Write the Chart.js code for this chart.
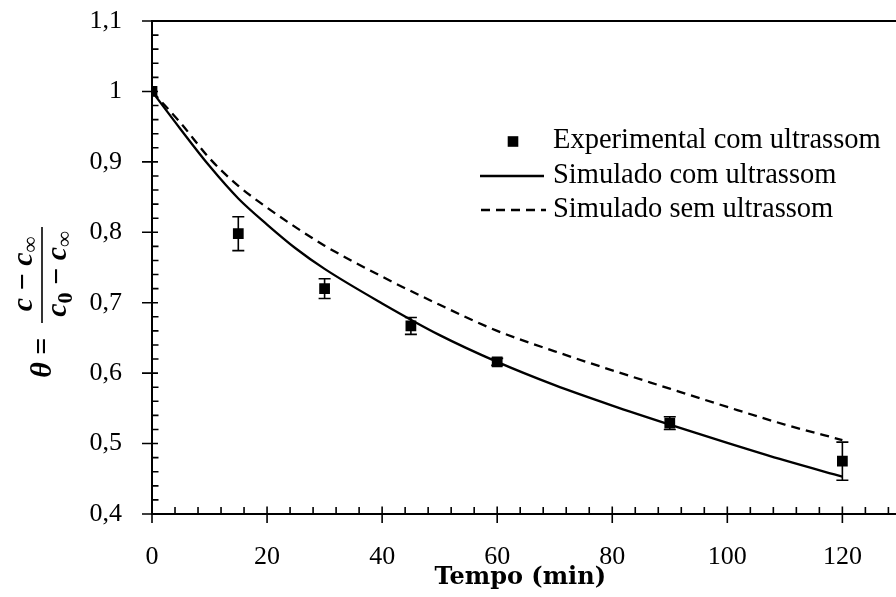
<!DOCTYPE html>
<html>
<head>
<meta charset="utf-8">
<script src="https://cdn.jsdelivr.net/npm/chart.js@4.4.0/dist/chart.umd.min.js"></script>
<style>
    html, body { margin: 0; padding: 0; background: #fff; }
    #wrap { width: 896px; height: 597px; }
</style>
</head>
<body>
<div id="wrap"><canvas id="chart" width="896" height="597"></canvas></div>
<script>
// Concentração adimensional x tempo, com e sem ultrassom

const tempoExp = [0, 15, 30, 45, 60, 90, 120];
const thetaExp = [1.0, 0.798, 0.720, 0.667, 0.616, 0.529, 0.475];
const erroExp  = [0.0, 0.024, 0.014, 0.012, 0.005, 0.009, 0.027];

const tempoSim = [0, 5, 10, 15, 20, 25, 30, 40, 50, 60, 70, 80, 90, 100, 110, 120];
const simCom   = [1.0, 0.946, 0.894, 0.848, 0.811, 0.777, 0.748, 0.699, 0.654, 0.616, 0.583, 0.554, 0.527, 0.501, 0.476, 0.453];
const simSem   = [1.0, 0.955, 0.905, 0.866, 0.835, 0.807, 0.781, 0.737, 0.697, 0.660, 0.631, 0.604, 0.578, 0.552, 0.527, 0.505];

const xTicks = [0, 20, 40, 60, 80, 100, 120];
const yTicks = [0.4, 0.5, 0.6, 0.7, 0.8, 0.9, 1.0, 1.1];

const SERIF = "'Liberation Serif', 'DejaVu Serif', serif";

// error bars of the experimental points
const errorBars = {
    id: 'errorBars',
    beforeDatasetsDraw(chart) {
        const { ctx, scales: { x, y } } = chart;
        ctx.save();
        ctx.strokeStyle = '#000';
        ctx.lineWidth = 1.6;
        tempoExp.forEach((t, i) => {
            const e = erroExp[i];
            if (!e) return;
            const px = x.getPixelForValue(t);
            const top = y.getPixelForValue(thetaExp[i] + e);
            const bot = y.getPixelForValue(thetaExp[i] - e);
            ctx.beginPath();
            ctx.moveTo(px, top); ctx.lineTo(px, bot);
            ctx.moveTo(px - 6, top); ctx.lineTo(px + 6, top);
            ctx.moveTo(px - 6, bot); ctx.lineTo(px + 6, bot);
            ctx.stroke();
        });
        ctx.restore();
    }
};

// axis lines + ticks crossing the axis (major) and inside (minor)
const frame = {
    id: 'frame',
    afterDraw(chart) {
        const { ctx, chartArea: a, scales: { x, y } } = chart;
        ctx.save();
        ctx.strokeStyle = '#000';
        ctx.lineWidth = 2;
        ctx.beginPath();
        ctx.moveTo(a.left, a.top); ctx.lineTo(chart.width, a.top);
        ctx.moveTo(a.left, a.top - 1); ctx.lineTo(a.left, a.bottom + 1);
        ctx.moveTo(a.left, a.bottom); ctx.lineTo(chart.width, a.bottom);
        ctx.stroke();

        ctx.lineWidth = 1.6;
        ctx.beginPath();
        for (let v = 0; v <= x.max; v += 4) {
            const px = x.getPixelForValue(v);
            if (v % 20 === 0) {
                ctx.moveTo(px, a.bottom + 9); ctx.lineTo(px, a.bottom - 7.5);
            } else {
                ctx.moveTo(px, a.bottom); ctx.lineTo(px, a.bottom - 7);
            }
        }
        for (let k = 20; k <= 55; k++) {
            const py = y.getPixelForValue(k / 50);
            if (k % 5 === 0) {
                ctx.moveTo(a.left - 10, py); ctx.lineTo(a.left + 6, py);
            } else {
                ctx.moveTo(a.left, py); ctx.lineTo(a.left + 6.5, py);
            }
        }
        ctx.stroke();
        ctx.restore();
    }
};

// legend placed inside the plot, top right
const legendBox = {
    id: 'legendBox',
    afterDraw(chart) {
        const { ctx } = chart;
        const ds = chart.data.datasets;
        const rows = [141.5, 176, 210];
        ctx.save();
        ctx.fillStyle = '#000';
        ctx.strokeStyle = '#000';
        ctx.font = `28.5px ${SERIF}`;
        ctx.textBaseline = 'alphabetic';
        ctx.textAlign = 'left';

        ctx.fillRect(513 - 5.3, rows[0] - 5.3, 10.6, 10.6);

        ctx.lineWidth = ds[1].borderWidth;
        ctx.beginPath(); ctx.moveTo(480, rows[1]); ctx.lineTo(544, rows[1]); ctx.stroke();

        ctx.lineWidth = ds[2].borderWidth;
        ctx.setLineDash(ds[2].borderDash);
        ctx.beginPath(); ctx.moveTo(481, rows[2]); ctx.lineTo(546, rows[2]); ctx.stroke();
        ctx.setLineDash([]);

        ds.forEach((d, i) => ctx.fillText(d.label, 553, rows[i] + 6.5));
        ctx.restore();
    }
};

// theta = (c - c_inf) / (c_0 - c_inf), rotated
const yTitle = {
    id: 'yTitle',
    afterDraw(chart) {
        const { ctx } = chart;
        const big = `italic bold 30px ${SERIF}`;
        const upr = `bold 30px ${SERIF}`;
        const subU = `bold 22px ${SERIF}`;

        const runs = (parts, cx, base) => {
            let w = 0;
            parts.forEach(p => { ctx.font = p.f; w += ctx.measureText(p.t).width; });
            let xx = cx - w / 2;
            parts.forEach(p => {
                ctx.font = p.f;
                ctx.fillText(p.t, xx, base + (p.dy || 0));
                xx += ctx.measureText(p.t).width;
            });
        };

        ctx.save();
        ctx.translate(42, 302);
        ctx.rotate(-Math.PI / 2);
        ctx.fillStyle = '#000';
        ctx.textBaseline = 'alphabetic';
        ctx.textAlign = 'left';

        runs([{ t: 'θ', f: big }, { t: ' = ', f: upr }], -52, 9);

        runs([{ t: 'c', f: big }, { t: ' − ', f: upr }, { t: 'c', f: big }, { t: '∞', f: subU, dy: 5 }], 28, -10);
        runs([{ t: 'c', f: big }, { t: '0', f: subU, dy: 6 }, { t: ' − ', f: upr }, { t: 'c', f: big }, { t: '∞', f: subU, dy: 5 }], 28, 24);

        ctx.lineWidth = 1.6;
        ctx.strokeStyle = '#000';
        ctx.beginPath(); ctx.moveTo(-21, 0); ctx.lineTo(75, 0); ctx.stroke();
        ctx.restore();
    }
};

new Chart(document.getElementById('chart'), {
    type: 'scatter',
    data: {
        datasets: [
            {
                label: 'Experimental com ultrassom',
                data: tempoExp.map((t, i) => ({ x: t, y: thetaExp[i] })),
                pointStyle: 'rect',
                pointRadius: 7.6,
                backgroundColor: '#000',
                borderColor: '#000',
                borderWidth: 0,
                showLine: false,
                order: 0
            },
            {
                label: 'Simulado com ultrassom',
                data: tempoSim.map((t, i) => ({ x: t, y: simCom[i] })),
                showLine: true,
                pointRadius: 0,
                borderColor: '#000',
                borderWidth: 2.3,
                cubicInterpolationMode: 'monotone',
                order: 1
            },
            {
                label: 'Simulado sem ultrassom',
                data: tempoSim.map((t, i) => ({ x: t, y: simSem[i] })),
                showLine: true,
                pointRadius: 0,
                borderColor: '#000',
                borderWidth: 2.3,
                borderDash: [9, 6],
                cubicInterpolationMode: 'monotone',
                order: 2
            }
        ]
    },
    options: {
        responsive: false,
        animation: false,
        devicePixelRatio: 1,
        layout: { padding: { left: 62, right: 1.3, top: 21, bottom: 0 } },
        plugins: { legend: { display: false }, tooltip: { enabled: false } },
        scales: {
            x: {
                type: 'linear',
                min: 0,
                max: 128,
                grid: { display: false, drawTicks: false },
                border: { display: false },
                afterBuildTicks: s => { s.ticks = xTicks.map(v => ({ value: v })); },
                afterFit: s => { s.height = 83; s.paddingLeft = 0; s.paddingRight = 0; },
                ticks: {
                    color: '#000',
                    padding: 28,
                    maxRotation: 0,
                    font: { family: SERIF, size: 26 }
                },
                title: {
                    display: true,
                    text: 'Tempo (min)',
                    color: '#000',
                    font: { family: "'DejaVu Serif', serif", size: 24, weight: 'bold' },
                    padding: { top: 0, bottom: 5 }
                }
            },
            y: {
                type: 'linear',
                min: 0.4,
                max: 1.1,
                grid: { display: false, drawTicks: false },
                border: { display: false },
                afterBuildTicks: s => { s.ticks = yTicks.map(v => ({ value: v })); },
                afterFit: s => { s.width = 90; s.paddingTop = 0; s.paddingBottom = 0; },
                ticks: {
                    color: '#000',
                    padding: 30,
                    font: { family: SERIF, size: 26 },
                    callback: v => String(+v.toFixed(1)).replace('.', ',')
                }
            }
        }
    },
    plugins: [errorBars, frame, legendBox, yTitle]
});
</script>
</body>
</html>
